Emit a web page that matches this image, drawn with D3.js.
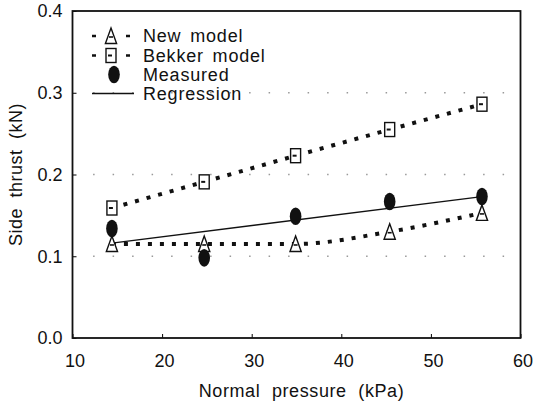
<!DOCTYPE html>
<html>
<head>
<meta charset="utf-8">
<script src="https://cdn.jsdelivr.net/npm/d3@7"></script>
<style>
  body { margin: 0; background: #fff; }
  text { font-family: "Liberation Sans", Arial, sans-serif; fill: #111; }
</style>
</head>
<body>
<div id="chart"></div>
<script>
// values
const pressure = [14.4, 24.7, 34.9, 45.4, 55.7];
const newModel = [0.115, 0.115, 0.115, 0.130, 0.153];
const bekkerModel = [0.159, 0.191, 0.223, 0.255, 0.286];
const measured = [0.134, 0.098, 0.149, 0.167, 0.173];
const regressionX = [14.4, 55.7];
const regressionY = [0.116, 0.173];
const xTicks = [10, 20, 30, 40, 50, 60];
const yTicks = [0.0, 0.1, 0.2, 0.3, 0.4];
const gridValues = [0.1, 0.2, 0.3];
const legendLabels = ["New model", "Bekker model", "Measured", "Regression"];

const width = 534,
  height = 408,
  margin = ({ top: 11, right: 13.5, bottom: 70, left: 72.5 });

const svg = d3.select("#chart")
  .append("svg")
  .attr("width", width)
  .attr("height", height);

let x = d3.scaleLinear()
  .domain([10, 60])
  .range([margin.left, width - margin.right]);

let y = d3.scaleLinear()
  .domain([0, 0.4])
  .range([height - margin.bottom, margin.top]);

// dotted grey grid lines
svg.append("g")
  .selectAll("line")
  .data(gridValues)
  .join("line")
  .attr("x1", x(12.3))
  .attr("x2", x(59))
  .attr("y1", d => y(d))
  .attr("y2", d => y(d))
  .attr("stroke", "#999")
  .attr("stroke-width", 1.3)
  .attr("stroke-dasharray", "1.5 18");

// axes, ticks pointing inward
svg.append("g")
  .attr("transform", `translate(0,${y(0)})`)
  .call(d3.axisBottom(x).tickValues(xTicks).tickSize(-4).tickPadding(16).tickFormat(d3.format("d")))
  .call(g => g.select(".domain").remove())
  .call(g => g.selectAll("text")
    .attr("font-size", 18).attr("dx", 2).attr("fill", "#111"));

svg.append("g")
  .attr("transform", `translate(${x(10)},0)`)
  .call(d3.axisLeft(y).tickValues(yTicks).tickSize(-4).tickPadding(10).tickFormat(d3.format(".1f")))
  .call(g => g.select(".domain").remove())
  .call(g => g.selectAll("text")
    .attr("font-size", 18).attr("fill", "#111"));

// frame
svg.append("rect")
  .attr("x", x(10))
  .attr("y", y(0.4))
  .attr("width", x(60) - x(10))
  .attr("height", y(0) - y(0.4))
  .attr("fill", "none")
  .attr("stroke", "#111")
  .attr("stroke-width", 1.8);

// axis labels
svg.append("text")
  .attr("x", (x(10) + x(60)) / 2 + 5)
  .attr("y", 397)
  .attr("text-anchor", "middle")
  .attr("font-size", 18)
  .attr("letter-spacing", 0.6)
  .attr("word-spacing", 6)
  .text("Normal pressure (kPa)");

svg.append("text")
  .attr("transform", `translate(22,${(y(0) + y(0.4)) / 2}) rotate(-90)`)
  .attr("text-anchor", "middle")
  .attr("font-size", 18)
  .attr("letter-spacing", 0.5)
  .attr("word-spacing", 5)
  .text("Side thrust (kN)");

let line = d3.line()
  .x((d, i) => x(pressure[i]))
  .y(d => y(d));

let smoothLine = d3.line()
  .x((d, i) => x(pressure[i]))
  .y(d => y(d))
  .curve(d3.curveMonotoneX);

// model lines (dotted)
svg.append("path")
  .attr("d", smoothLine(newModel))
  .attr("fill", "none")
  .attr("stroke", "#111")
  .attr("stroke-width", 4)
  .attr("stroke-dasharray", "4 8");

svg.append("path")
  .attr("d", line(bekkerModel))
  .attr("fill", "none")
  .attr("stroke", "#111")
  .attr("stroke-width", 4)
  .attr("stroke-dasharray", "4 8");

// regression line
svg.append("line")
  .attr("x1", x(regressionX[0]))
  .attr("y1", y(regressionY[0]))
  .attr("x2", x(regressionX[1]))
  .attr("y2", y(regressionY[1]))
  .attr("stroke", "#111")
  .attr("stroke-width", 1.3);

const triPath = "M0,-8L5.6,7.5L-5.6,7.5Z";

function triangle(g, cx, cy) {
  g.append("path")
    .attr("transform", `translate(${cx},${cy})`)
    .attr("d", triPath)
    .attr("fill", "#fff")
    .attr("stroke", "#111")
    .attr("stroke-width", 1.4);
  g.append("line")
    .attr("x1", cx - 2).attr("x2", cx + 2)
    .attr("y1", cy + 1).attr("y2", cy + 1)
    .attr("stroke", "#111").attr("stroke-width", 1.6);
}

function square(g, cx, cy) {
  g.append("rect")
    .attr("x", cx - 5).attr("y", cy - 7)
    .attr("width", 10).attr("height", 14)
    .attr("fill", "#fff")
    .attr("stroke", "#111")
    .attr("stroke-width", 1.4);
  g.append("line")
    .attr("x1", cx - 3).attr("x2", cx + 1)
    .attr("y1", cy).attr("y2", cy)
    .attr("stroke", "#111").attr("stroke-width", 2);
}

function blob(g, cx, cy) {
  g.append("ellipse")
    .attr("cx", cx).attr("cy", cy)
    .attr("rx", 5.8).attr("ry", 8.8)
    .attr("fill", "#111");
}

let marks = svg.append("g");
newModel.forEach((v, i) => triangle(marks, x(pressure[i]), y(v)));
bekkerModel.forEach((v, i) => square(marks, x(pressure[i]), y(v)));
measured.forEach((v, i) => blob(marks, x(pressure[i]), y(v)));

// legend
let legend = svg.append("g");
const rowY = [36, 55.5, 74.5, 93.5];
const symX = 111;

legendLabels.forEach((lab, i) => {
  legend.append("text")
    .attr("x", 143)
    .attr("y", rowY[i] + 6)
    .attr("font-size", 18)
    .attr("letter-spacing", 0.8)
    .attr("word-spacing", 3)
    .text(lab);
});

for (let i = 0; i < 2; i++) {
  legend.append("line")
    .attr("x1", 92).attr("x2", 130)
    .attr("y1", rowY[i]).attr("y2", rowY[i])
    .attr("stroke", "#111")
    .attr("stroke-width", 2.5)
    .attr("stroke-dasharray", "4 30");
}
triangle(legend, symX, rowY[0]);
square(legend, symX, rowY[1]);
blob(legend, symX + 3, rowY[2]);
legend.append("line")
  .attr("x1", 92).attr("x2", 134)
  .attr("y1", rowY[3]).attr("y2", rowY[3])
  .attr("stroke", "#111")
  .attr("stroke-width", 1.3);
</script>
</body>
</html>
